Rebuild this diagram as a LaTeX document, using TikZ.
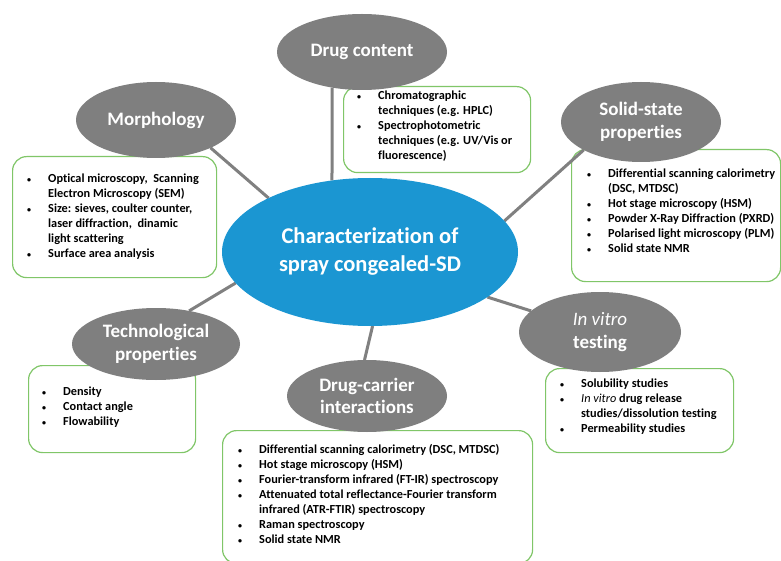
\documentclass[tikz,border=0pt]{standalone}
\usepackage{fontspec}
\setmainfont{Carlito}[Ligatures=NoCommon]
\usetikzlibrary{shapes.geometric}
\pgfdeclarelayer{boxes}
\pgfdeclarelayer{conns}
\pgfsetlayers{boxes,conns,main}
\definecolor{ellgray}{RGB}{127,127,127}
\definecolor{cblue}{RGB}{27,150,210}
\definecolor{bgreen}{RGB}{128,198,104}
\definecolor{lgray}{RGB}{128,128,128}
\newcommand{\bul}{{\fontsize{8}{8}\selectfont\textbullet}}
\newcommand{\itemlist}[1]{\begin{tabular}[t]{@{}p{21pt}@{}l@{}}#1\end{tabular}}
\tikzset{
  topic/.style={ellipse, fill=ellgray, inner sep=0pt, outer sep=0pt, text=white, align=center,
    font=\fontsize{19}{22.5}\selectfont\bfseries},
  hub/.style={ellipse, fill=cblue, inner sep=0pt, outer sep=0pt, text=white, align=center,
    font=\fontsize{22.5}{28}\selectfont\bfseries},
  infobox/.style={draw=bgreen, line width=1.2pt, rounded corners=14pt, fill=white,
    anchor=north west, inner sep=0pt},
  conn/.style={draw=lgray, line width=3pt},
  listtext/.style={anchor=base west, inner sep=0pt, text=black,
    font=\fontsize{12.3}{15}\selectfont\bfseries},
}
\begin{document}
\begin{tikzpicture}[x=1pt, y=-1pt]
\useasboundingbox (0,0) rectangle (781,561);

% boxes
\begin{pgfonlayer}{boxes}
\fill[white] (0,0) rectangle (781,561);
\node[infobox, minimum width=204pt, minimum height=121pt] (mbox) at (12,156) {};
\node[infobox, minimum width=187pt, minimum height=86pt] (dcbox) at (343,86) {};
\node[infobox, minimum width=209pt, minimum height=132pt] (ssbox) at (571,149) {};
\node[infobox, minimum width=167pt, minimum height=87pt] (tbox) at (28,365) {};
\node[infobox, minimum width=310pt, minimum height=133pt] (dcabox) at (222,430) {};
\node[infobox, minimum width=188pt, minimum height=84pt] (ivbox) at (545,368) {};
\end{pgfonlayer}

% ellipses
\node[hub, minimum width=296pt, minimum height=148pt] (c) at (370,252) {Characterization of\\spray congealed-SD};
\node[topic, minimum width=170pt, minimum height=76pt] (dc) at (362,52) {Drug content};
\node[topic, minimum width=160pt, minimum height=76pt] (m) at (156,120) {Morphology};
\node[topic, minimum width=160pt, minimum height=80pt] (ss) at (641,122) {Solid-state\\properties};
\node[topic, minimum width=168pt, minimum height=72pt] (t) at (156,344) {Technological\\properties};
\node[topic, minimum width=160pt, minimum height=72pt] (dca) at (367,396) {Drug-carrier\\interactions};
\node[topic, minimum width=162pt, minimum height=80pt] (iv) at (600,332) {\textit{\mdseries In vitro}\\testing};

% connectors
\begin{pgfonlayer}{conns}
\draw[conn] (dc.230) -- (c.118.8);
\draw[conn] (m.-27.8) -- (c.152.8);
\draw[conn] (ss.206) -- (c.13.3);
\draw[conn] (t.45) -- (c.193.9);
\draw[conn] (dca.94.8) -- (c.-88.5);
\draw[conn] (iv.163.7) -- (c.-21.5);
\end{pgfonlayer}

% lists
\node[listtext] (mlist) at (27,183) {\itemlist{
\bul & Optical microscopy,\ \ Scanning\\
 & Electron Microscopy (SEM)\\
\bul & Size: sieves, coulter counter,\\
 & laser diffraction,\ \ dinamic\\
 & light scattering\\
\bul & Surface area analysis}};
\node[listtext] (dclist) at (357,100) {\itemlist{
\bul & Chromatographic\\
 & techniques (e.g. HPLC)\\
\bul & Spectrophotometric\\
 & techniques (e.g. UV/Vis or\\
 & fluorescence)}};
\node[listtext] (sslist) at (587,178) {\itemlist{
\bul & Differential scanning calorimetry\\
 & (DSC, MTDSC)\\
\bul & Hot stage microscopy (HSM)\\
\bul & Powder X-Ray Diffraction (PXRD)\\
\bul & Polarised light microscopy (PLM)\\
\bul & Solid state NMR}};
\node[listtext] (tlist) at (42,395) {\itemlist{
\bul & Density\\
\bul & Contact angle\\
\bul & Flowability}};
\node[listtext] (dcalist) at (238,453) {\itemlist{
\bul & Differential scanning calorimetry (DSC, MTDSC)\\
\bul & Hot stage microscopy (HSM)\\
\bul & Fourier-transform infrared (FT-IR) spectroscopy\\
\bul & Attenuated total reflectance-Fourier transform\\
 & infrared (ATR-FTIR) spectroscopy\\
\bul & Raman spectroscopy\\
\bul & Solid state NMR}};
\node[listtext] (ivlist) at (560,387) {\itemlist{
\bul & Solubility studies\\
\bul & \textit{\mdseries In vitro} drug release\\
 & studies/dissolution testing\\
\bul & Permeability studies}};
\end{tikzpicture}
\end{document}
